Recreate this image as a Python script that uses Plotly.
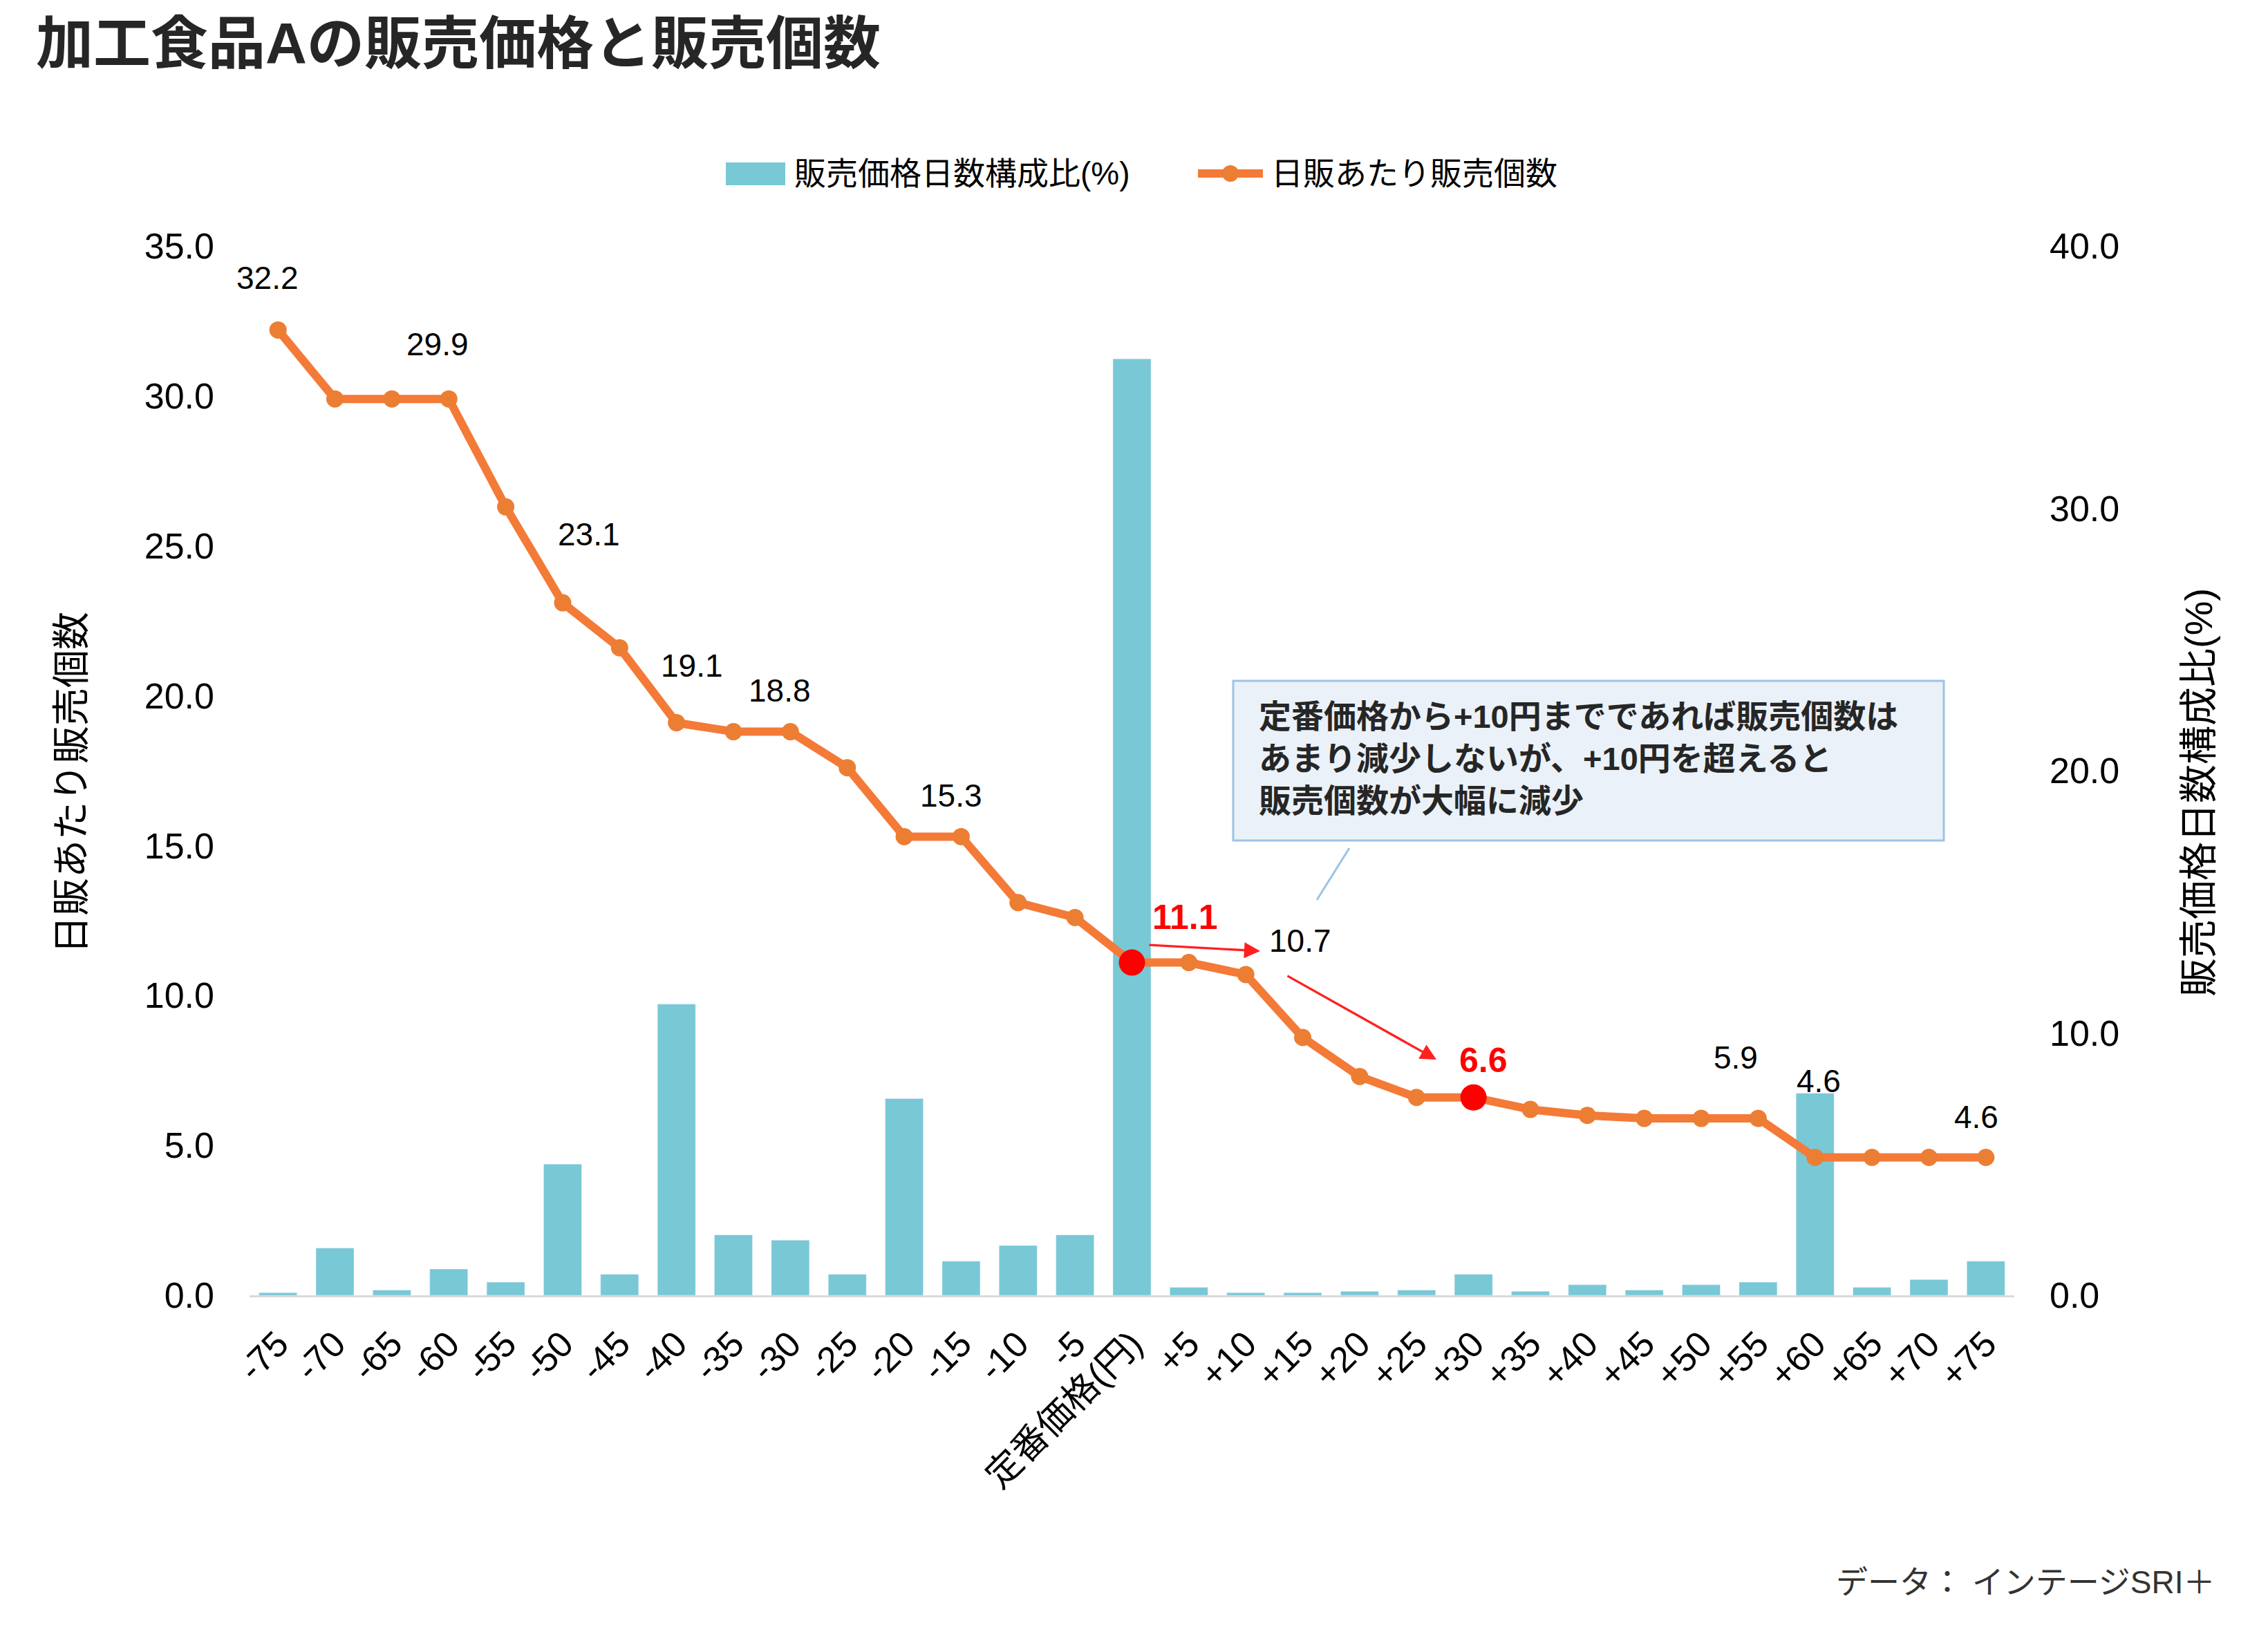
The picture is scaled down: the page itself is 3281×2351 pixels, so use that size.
import plotly.graph_objects as go

# ---------------- data ----------------
categories = ["-75", "-70", "-65", "-60", "-55", "-50", "-45", "-40", "-35", "-30",
              "-25", "-20", "-15", "-10", "-5", "定番価格(円)", "+5", "+10", "+15", "+20",
              "+25", "+30", "+35", "+40", "+45", "+50", "+55", "+60", "+65", "+70", "+75"]
share_pct = [0.1, 1.8, 0.2, 1.0, 0.5, 5.0, 0.8, 11.1, 2.3, 2.1,
             0.8, 7.5, 1.3, 1.9, 2.3, 35.7, 0.3, 0.1, 0.1, 0.15,
             0.2, 0.8, 0.15, 0.4, 0.2, 0.4, 0.5, 7.7, 0.3, 0.6, 1.3]
units_per_day = [32.2, 29.9, 29.9, 29.9, 26.3, 23.1, 21.6, 19.1, 18.8, 18.8,
                 17.6, 15.3, 15.3, 13.1, 12.6, 11.1, 11.1, 10.7, 8.6, 7.3,
                 6.6, 6.6, 6.2, 6.0, 5.9, 5.9, 5.9, 4.6, 4.6, 4.6, 4.6]
highlight_cats = ["定番価格(円)", "+30"]
highlight_vals = [11.1, 6.6]

# data labels: category, value, text offset (px), red/bold?
label_cats = ["-75", "-60", "-50", "-40", "-30", "-15", "定番価格(円)", "+10", "+30", "+55", "+60", "+75"]
label_vals = [32.2, 29.9, 23.1, 19.1, 18.8, 15.3, 11.1, 10.7, 6.6, 5.9, 4.6, 4.6]
label_dx = [-15, -16, 38, 22, -15, -14, 77, 79, 14, -32, 5, -14]
label_dy = [75, 79, 99, 83, 60, 59, 66, 49, 54, 88, 110, 58]
label_red = [False, False, False, False, False, False, True, False, True, False, False, False]

title_text = "加工食品Aの販売価格と販売個数"
bar_name = "販売価格日数構成比(%)"
line_name = "日販あたり販売個数"
note_text = ("定番価格から+10円までであれば販売個数は<br>"
             "あまり減少しないが、+10円を超えると<br>"
             "販売個数が大幅に減少")
source_text = "データ： インテージSRI＋"

# ---------------- styling ----------------
W, H = 3281, 2351
L, R, T, B = 361, 367, 356, 477
PW, PH = W - L - R, H - T - B
FONT = "Liberation Sans, Arial, Noto Sans CJK JP, sans-serif"
BAR_C = "#78C8D6"
LINE_C = "#F47A38"
MARK_C = "#EC7E33"


def px(xp):
    return (xp - L) / PW


def py(yp):
    return (H - B - yp) / PH


fig = go.Figure()
fig.add_trace(go.Bar(x=categories, y=share_pct, name=bar_name, marker_color=BAR_C,
                     yaxis="y", showlegend=False))
fig.add_trace(go.Scatter(x=categories, y=units_per_day, name=line_name, mode="lines+markers",
                         line=dict(color=LINE_C, width=12),
                         marker=dict(color=MARK_C, size=25), yaxis="y2", showlegend=False))
fig.add_trace(go.Scatter(x=highlight_cats, y=highlight_vals, mode="markers",
                         marker=dict(color="#FF0000", size=38), yaxis="y2", showlegend=False))

ann = []
for c, v, dx, dy, red in zip(label_cats, label_vals, label_dx, label_dy, label_red):
    ann.append(dict(x=categories.index(c), y=v, xref="x", yref="y2", text=f"{v:.1f}", showarrow=False,
                    xshift=dx, yshift=dy,
                    font=dict(family=FONT, size=50 if red else 46,
                              color="#FF0000" if red else "#000000",
                              weight="bold" if red else "normal")))

# red arrows
for (hx, hy, tx, ty) in [(1823, 1376, 1661, 1367), (2078, 1533, 1861, 1411)]:
    ann.append(dict(x=px(hx), y=py(hy), xref="paper", yref="paper", axref="pixel", ayref="pixel",
                    ax=tx - hx, ay=ty - hy, text="", showarrow=True, arrowhead=2,
                    arrowsize=1.4, arrowwidth=3.3, arrowcolor="#FF2020", standoff=0))

# callout text
ann.append(dict(x=px(1819), y=py(1097), xref="paper", yref="paper", xanchor="left", yanchor="middle",
                align="left", text=note_text, showarrow=False,
                font=dict(family=FONT, size=47, color="#262626", weight="bold")))

# custom legend texts
ann.append(dict(x=px(1147), y=py(251), xref="paper", yref="paper", xanchor="left", yanchor="middle",
                text=bar_name, showarrow=False, font=dict(family=FONT, size=46, color="#000000")))
ann.append(dict(x=px(1837), y=py(251), xref="paper", yref="paper", xanchor="left", yanchor="middle",
                text=line_name, showarrow=False, font=dict(family=FONT, size=46, color="#000000")))

# axis titles
ann.append(dict(x=px(103), y=py(1133), xref="paper", yref="paper", xanchor="center", yanchor="middle",
                text=line_name, textangle=-90, showarrow=False,
                font=dict(family=FONT, size=55, color="#000000")))
ann.append(dict(x=px(3180), y=py(1147), xref="paper", yref="paper", xanchor="center", yanchor="middle",
                text=bar_name, textangle=-90, showarrow=False,
                font=dict(family=FONT, size=56, color="#000000")))

# source
ann.append(dict(x=px(3207), y=py(2289), xref="paper", yref="paper", xanchor="right", yanchor="middle",
                text=source_text, showarrow=False, font=dict(family=FONT, size=46, color="#333333")))

shapes = [
    dict(type="rect", xref="paper", yref="paper", x0=px(1784), x1=px(2812), y0=py(1216), y1=py(985),
         fillcolor="#EAF1F8", line=dict(color="#9DC3E6", width=3), layer="above"),
    dict(type="line", xref="paper", yref="paper", x0=px(1952), y0=py(1227), x1=px(1905), y1=py(1302),
         line=dict(color="#9DC3E6", width=3)),
    # legend swatches
    dict(type="rect", xref="paper", yref="paper", x0=px(1050), x1=px(1136), y0=py(268), y1=py(235),
         fillcolor=BAR_C, line=dict(width=0)),
    dict(type="line", xref="paper", yref="paper", x0=px(1733), x1=px(1827), y0=py(251), y1=py(251),
         line=dict(color=LINE_C, width=12)),
    dict(type="circle", xref="paper", yref="paper", x0=px(1768), x1=px(1792), y0=py(263), y1=py(239),
         fillcolor=MARK_C, line=dict(width=0)),
]

fig.update_layout(
    width=W, height=H, autosize=False,
    margin=dict(l=L, r=R, t=T, b=B, pad=0),
    paper_bgcolor="white", plot_bgcolor="white",
    font=dict(family=FONT, size=44, color="#000000"),
    title=dict(text=title_text, x=52 / W, xanchor="left", xref="container",
               y=1 - 63 / H, yanchor="middle", yref="container",
               font=dict(family=FONT, size=83, color="#262626", weight="bold")),
    bargap=0.333,
    showlegend=False,
    xaxis=dict(type="category", categoryorder="array", categoryarray=categories,
               range=[-0.5, len(categories) - 0.5], autorange=False,
               tickmode="array", tickvals=categories, ticktext=categories,
               tickangle=-45, showline=True, linecolor="#D9D9D9", linewidth=3,
               showgrid=False, zeroline=False, ticks="", ticklabelstandoff=16,
               tickfont=dict(family=FONT, size=52, color="#000000")),
    yaxis=dict(side="right", range=[0, 40], tickvals=[0, 10, 20, 30, 40], tickformat=".1f",
               showgrid=False, zeroline=False, showline=False, ticks="", ticklabelstandoff=50,
               tickfont=dict(family=FONT, size=52, color="#000000")),
    yaxis2=dict(side="left", overlaying="y", range=[0, 35], tickvals=[0, 5, 10, 15, 20, 25, 30, 35],
                tickformat=".1f", showgrid=False, zeroline=False, showline=False, ticks="",
                ticklabelstandoff=50, tickfont=dict(family=FONT, size=52, color="#000000")),
    annotations=ann,
    shapes=shapes,
)

fig.write_html("out.html")
